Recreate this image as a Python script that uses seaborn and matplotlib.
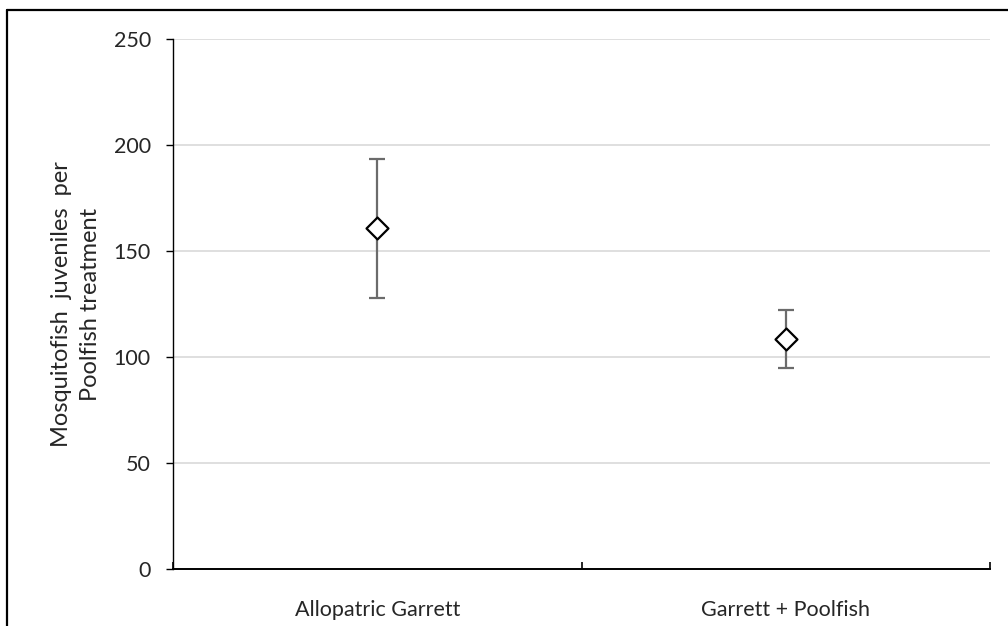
import numpy as np
import pandas as pd
import seaborn as sns
import matplotlib.pyplot as plt
from matplotlib.lines import Line2D

# data
treatments = ["Allopatric Garrett", "Garrett + Poolfish"]
juveniles = [160.7, 108.6]
err = [32.9, 13.8]
ylabel = "Mosquitofish  juveniles  per\nPoolfish treatment"

df = pd.DataFrame({"treatment": treatments, "juveniles": juveniles, "err": err})

sns.set_style("white")
plt.rcParams["font.family"] = ["Lato", "DejaVu Sans"]

fig = plt.figure(figsize=(10.08, 6.26), dpi=100)
ax = fig.add_axes([173 / 1008, 1 - 569 / 626, (990 - 173) / 1008, (569 - 39) / 626])

x = np.arange(len(treatments))
ax.errorbar(x, df["juveniles"], yerr=df["err"], fmt="none", ecolor="#6b6b6b",
            elinewidth=1.6, capsize=6, capthick=1.6, zorder=2)
sns.scatterplot(x=x, y=df["juveniles"], marker="D", s=125, color="white",
                edgecolor="black", linewidth=1.6, zorder=3, ax=ax, legend=False)

ax.set_xlim(-0.5, len(treatments) - 0.5)
ax.set_ylim(0, 250)
ax.set_yticks(range(0, 251, 50))
ax.yaxis.grid(True, color="#d9d9d9", linewidth=1.2)
ax.set_axisbelow(True)

ax.set_xticks(x)
ax.set_xticklabels(treatments, fontsize=15.5)
ax.set_xticks(np.arange(-0.5, len(treatments), 1.0), minor=True)
ax.tick_params(axis="x", which="major", length=0, pad=22)
ax.tick_params(axis="x", which="minor", direction="in", length=5, width=1.2,
               color="black", bottom=True)
ax.tick_params(axis="y", direction="out", length=5, width=1.0, color="black",
               labelsize=15.5, pad=11, left=True)

for s in ["top", "right"]:
    ax.spines[s].set_visible(False)
ax.spines["left"].set_color("black")
ax.spines["left"].set_linewidth(1.0)
ax.spines["bottom"].set_color("black")
ax.spines["bottom"].set_linewidth(1.4)

ax.set_xlabel("")
ax.set_ylabel(ylabel, fontsize=17, linespacing=1.45, labelpad=9)

# chart frame, cropped at right and bottom as in the reference
fig.add_artist(Line2D([7 / 1008, 7 / 1008], [0, 1 - 9.5 / 626], color="black", lw=1.6))
fig.add_artist(Line2D([7 / 1008, 1], [1 - 9.5 / 626, 1 - 9.5 / 626], color="black", lw=1.6))

fig.savefig("out.png", dpi=100)
